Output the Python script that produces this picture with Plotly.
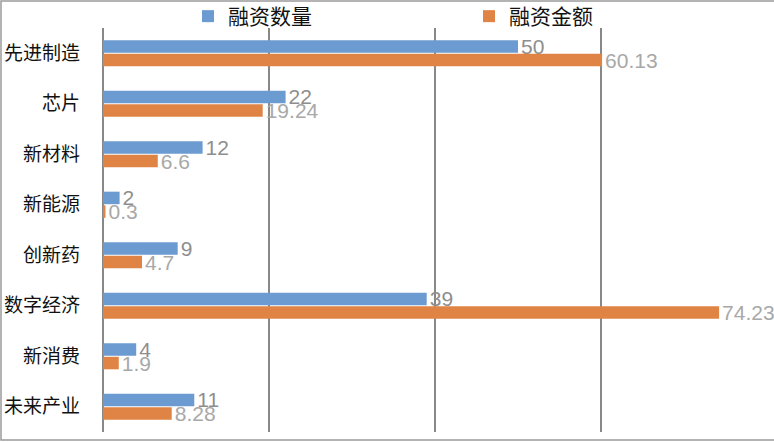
import plotly.graph_objects as go

categories = ["先进制造", "芯片", "新材料", "新能源", "创新药", "数字经济", "新消费", "未来产业"]
count_vals = [50, 22, 12, 2, 9, 39, 4, 11]
amount_vals = [60.13, 19.24, 6.6, 0.3, 4.7, 74.23, 1.9, 8.28]
count_labels = ["50", "22", "12", "2", "9", "39", "4", "11"]
amount_labels = ["60.13", "19.24", "6.6", "0.3", "4.7", "74.23", "1.9", "8.28"]

W, H = 774, 442
ML, MR, MT, MB = 103, 7, 28, 10
FONT = "Liberation Sans, Arial, Noto Sans CJK SC, sans-serif"
CJK = "Noto Sans CJK SC, sans-serif"

fig = go.Figure()
fig.add_trace(go.Bar(
    y=categories, x=count_vals, name="融资数量", orientation="h",
    marker=dict(color="#6b9bd1", line=dict(width=0)),
    text=count_labels, textposition="outside", constraintext="none",
    textfont=dict(color="#8e8e8e", size=21, family=FONT),
    cliponaxis=False,
))
fig.add_trace(go.Bar(
    y=categories, x=amount_vals, name="融资金额", orientation="h",
    marker=dict(color="#e08445", line=dict(width=0)),
    text=amount_labels, textposition="outside", constraintext="none",
    textfont=dict(color="#a8a8a8", size=21, family=FONT),
    cliponaxis=False,
))

pw = W - ML - MR
ph = H - MT - MB
fig.update_layout(
    width=W, height=H,
    margin=dict(l=ML, r=MR, t=MT, b=MB, pad=0, autoexpand=False),
    paper_bgcolor="white", plot_bgcolor="white",
    barmode="group", bargap=0.46, bargroupgap=0.08,
    font=dict(family=CJK, size=19, color="#111111"),
    showlegend=True,
    legend=dict(
        orientation="h", x=(188 - ML) / pw, xanchor="left",
        y=1 + 32 / ph, yanchor="top",
        entrywidth=236, entrywidthmode="pixels",
        font=dict(size=21, color="#111111", family=CJK),
        itemsizing="constant", traceorder="normal",
        bgcolor="rgba(0,0,0,0)",
    ),
    xaxis=dict(
        range=[0, 80], dtick=20, showticklabels=False,
        showgrid=True, gridcolor="#888888", gridwidth=2,
        zeroline=True, zerolinecolor="#888888", zerolinewidth=2,
        showline=False, fixedrange=True,
    ),
    yaxis=dict(
        autorange="reversed", showgrid=False, zeroline=False,
        ticks="", ticklabelstandoff=22,
        tickfont=dict(size=19, color="#111111", family=CJK),
    ),
)

# outer frame of the chart image
fig.add_shape(
    type="rect", xref="paper", yref="paper",
    x0=(1 - ML) / pw, x1=(W + 5 - ML) / pw,
    y0=-(MB - 2) / ph, y1=1 + (MT - 1) / ph,
    line=dict(color="#9a9a9a", width=1.5), fillcolor="rgba(0,0,0,0)",
    layer="below",
)

fig.write_html("out.html")
